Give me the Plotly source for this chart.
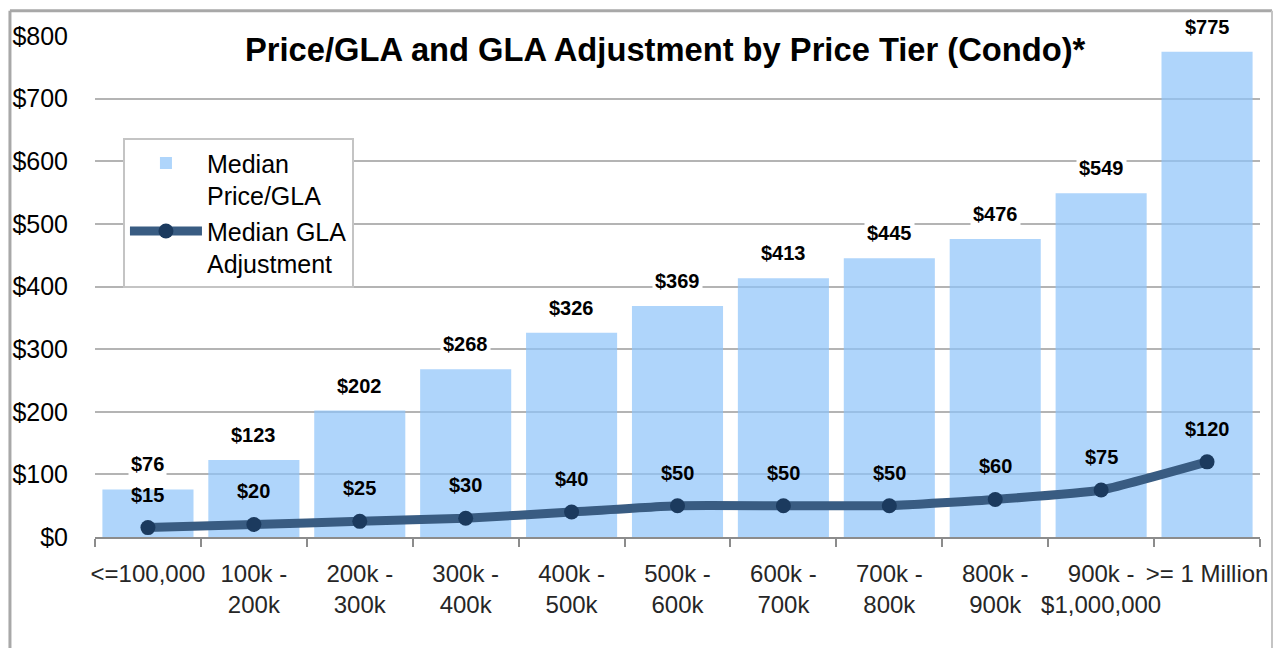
import plotly.graph_objects as go

categories = ["<=100,000", "100k -<br>200k", "200k -<br>300k", "300k -<br>400k", "400k -<br>500k",
              "500k -<br>600k", "600k -<br>700k", "700k -<br>800k", "800k -<br>900k",
              "900k -<br>$1,000,000", ">= 1 Million"]
price_per_gla = [76, 123, 202, 268, 326, 369, 413, 445, 476, 549, 775]
gla_adjustment = [15, 20, 25, 30, 40, 50, 50, 50, 60, 75, 120]
y_ticks = [0, 100, 200, 300, 400, 500, 600, 700, 800]
y_tick_text = ["$" + str(v) for v in y_ticks]

FONT = "Liberation Sans, Arial, sans-serif"

fig = go.Figure()
fig.add_trace(go.Bar(
    x=categories, y=price_per_gla, name="Median<br>Price/GLA",
    marker=dict(color="rgba(141,195,249,0.7)", line=dict(width=0)),
))
fig.add_trace(go.Scatter(
    x=categories, y=gla_adjustment, name="Median GLA<br>Adjustment",
    mode="lines+markers",
    line=dict(color="#395c82", width=9, shape="spline", smoothing=0.4),
    marker=dict(color="#1b3a5e", size=15),
))

annotations = []
for c, v in zip(categories, price_per_gla):
    annotations.append(dict(x=c, y=v, xref="x", yref="y", text=f"<b>${v}</b>",
                            showarrow=False, yanchor="middle", yshift=25,
                            font=dict(family=FONT, size=20, color="black"),
                            bgcolor="white", borderpad=2))
for c, v in zip(categories, gla_adjustment):
    annotations.append(dict(x=c, y=v, xref="x", yref="y", text=f"<b>${v}</b>",
                            showarrow=False, yanchor="middle", yshift=33,
                            font=dict(family=FONT, size=20, color="black")))
annotations.append(dict(x=0.49, y=0.973, xref="paper", yref="paper",
                        text="<b>Price/GLA and GLA Adjustment by Price Tier (Condo)*</b>",
                        showarrow=False, xanchor="center", yanchor="middle",
                        font=dict(family=FONT, size=32.7, color="black"),
                        bgcolor="white", borderpad=8))

fig.update_layout(
    width=1273, height=640,
    margin=dict(l=87, r=21, t=28, b=111, autoexpand=False),
    paper_bgcolor="white", plot_bgcolor="white",
    font=dict(family=FONT, size=24, color="black"),
    bargap=0.14,
    showlegend=True,
    legend=dict(x=0.024, y=0.796, xanchor="left", yanchor="top",
                bgcolor="white", bordercolor="#c4c4c4", borderwidth=2,
                font=dict(family=FONT, size=25, color="black"),
                itemwidth=72, tracegroupgap=6, valign="top"),
    xaxis=dict(range=[-0.5, 10.5], showgrid=False, showline=True,
               linecolor="#8c8c8c", linewidth=2,
               ticks="outside", tickson="boundaries", ticklen=8, tickwidth=2,
               tickcolor="#8c8c8c", tickangle=0, automargin=False,
               tickfont=dict(family=FONT, size=24, color="#262626"),
               ticklabelstandoff=14),
    yaxis=dict(range=[0, 800], tickvals=y_ticks, ticktext=y_tick_text,
               showgrid=True, gridcolor="#b4b4b4", gridwidth=2,
               zeroline=False, showline=False, automargin=False,
               tickfont=dict(family=FONT, size=25, color="black"),
               ticklabelstandoff=26),
    annotations=annotations,
    shapes=[
        dict(type="line", xref="paper", yref="paper", x0=-0.073, x1=1.0103,
             y0=1.0505, y1=1.0505, line=dict(color="#a8a8a8", width=3)),
        dict(type="line", xref="paper", yref="paper", x0=-0.073, x1=-0.073,
             y0=-0.25, y1=1.0505, line=dict(color="#a8a8a8", width=3)),
        dict(type="line", xref="paper", yref="paper", x0=1.0103, x1=1.0103,
             y0=-0.25, y1=1.0505, line=dict(color="#c4c4c4", width=2)),
    ],
)

fig.write_html("out.html")
